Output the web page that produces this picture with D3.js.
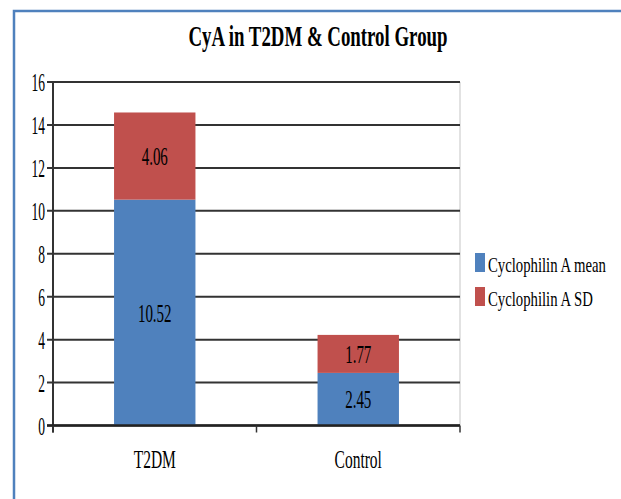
<!DOCTYPE html>
<html><head><meta charset="utf-8">
<script src="https://cdn.jsdelivr.net/npm/d3@7"></script>
<style>html,body{margin:0;padding:0;background:#fff;overflow:hidden}</style>
</head><body>
<script>
const categories = ["T2DM", "Control"];
const meanValues = [10.52, 2.45];
const sdValues = [4.06, 1.77];
const seriesNames = ["Cyclophilin A mean", "Cyclophilin A SD"];
const seriesColors = ["#4F81BD", "#C0504D"];
const yTicks = [0, 2, 4, 6, 8, 10, 12, 14, 16];
const titleText = "CyA in T2DM & Control Group";

const W = 621, H = 499;
const svg = d3.select("body").append("svg").attr("width", W).attr("height", H);
const FONT = "'Liberation Serif', Tinos, 'Times New Roman', serif";

// outer frame
svg.append("rect").attr("x", 14).attr("y", 11).attr("width", 700).attr("height", 600)
  .attr("fill", "#fff").attr("stroke", "#4F81BD").attr("stroke-width", 2.5);

function ctext(x, y, str, size, sx, anchor) {
  const g = svg.append("g").attr("transform", `translate(${x},${y}) scale(${sx},1)`);
  g.append("text").attr("x", 0).attr("y", 0).attr("text-anchor", anchor || "middle")
    .style("font-family", FONT).attr("font-size", size).attr("fill", "#000").text(str);
  return g;
}

const x0 = 53, x1 = 460, yTop = 82, yBot = 425.5;
const y = d3.scaleLinear().domain([0, 16]).range([yBot, yTop]);
const x = d3.scaleBand().domain(categories).range([x0, x1]).paddingInner(0.6).paddingOuter(0.3);

// plot area right border
svg.append("line").attr("x1", x1).attr("x2", x1).attr("y1", yTop).attr("y2", yBot)
  .attr("stroke", "#d9d9d9").attr("stroke-width", 1.5);

// gridlines + y ticks
svg.append("g").selectAll("line").data(yTicks).join("line")
  .attr("x1", 47).attr("x2", x1).attr("y1", d => y(d)).attr("y2", d => y(d))
  .attr("stroke", "#333").attr("stroke-width", 2);

yTicks.forEach(t => ctext(45, y(t) + 9, String(t), 26, 0.52, "end"));

// stacked bars
const rows = categories.map((c, i) => ({ cat: c, mean: meanValues[i], sd: sdValues[i] }));
const stack = d3.stack().keys(["mean", "sd"])(rows);
stack.forEach((layer, li) => {
  svg.append("g").selectAll("rect").data(layer).join("rect")
    .attr("x", d => x(d.data.cat)).attr("width", x.bandwidth())
    .attr("y", d => y(d[1])).attr("height", d => y(d[0]) - y(d[1]))
    .attr("fill", seriesColors[li]);
});
stack.forEach((layer, li) => {
  layer.forEach(d => {
    const v = d[1] - d[0];
    ctext(x(d.data.cat) + x.bandwidth() / 2, (y(d[0]) + y(d[1])) / 2 + 9, v.toFixed(2), 25, 0.6);
  });
});

// axes
svg.append("line").attr("x1", x0).attr("x2", x0).attr("y1", yTop).attr("y2", yBot + 7)
  .attr("stroke", "#333").attr("stroke-width", 2);
svg.append("line").attr("x1", 47).attr("x2", x1).attr("y1", yBot).attr("y2", yBot)
  .attr("stroke", "#222").attr("stroke-width", 2.5);
const xTickPos = [x0, (x0 + x1) / 2, x1];
svg.append("g").selectAll("line").data(xTickPos).join("line")
  .attr("x1", d => d).attr("x2", d => d).attr("y1", yBot).attr("y2", yBot + 7)
  .attr("stroke", "#333").attr("stroke-width", 1.5);
categories.forEach(c => ctext(x(c) + x.bandwidth() / 2, 468, c, 25, 0.62));

// title
ctext(318, 46, titleText, 29, 0.65).select("text").attr("font-weight", "bold");

// legend
seriesNames.forEach((n, i) => {
  const ly = 253 + i * 34;
  svg.append("rect").attr("x", 475).attr("y", ly).attr("width", 10).attr("height", 19)
    .attr("fill", seriesColors[i]);
  ctext(488, ly + 19, n, 22, 0.67, "start");
});
</script>
</body></html>
